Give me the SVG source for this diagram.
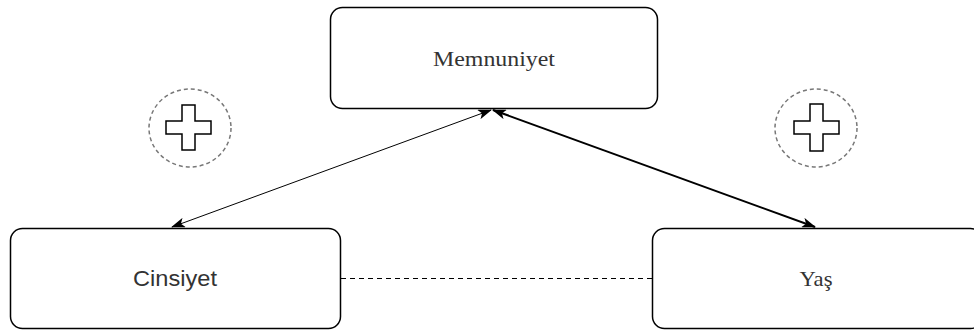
<svg xmlns="http://www.w3.org/2000/svg" width="974" height="333" viewBox="0 0 974 333">
  <style>
    .box { fill: #ffffff; stroke: #000000; stroke-width: 1.5; }
    .serif { font-family: "Liberation Serif", "Times New Roman", serif; font-size: 22px; fill: #333333; text-anchor: middle; }
    .sans { font-family: "Liberation Sans", Arial, sans-serif; font-size: 22px; fill: #333333; text-anchor: middle; }
    .halo { fill: none; stroke: #777777; stroke-width: 1.5; stroke-dasharray: 4 3; }
    .plus { fill: #ffffff; stroke: #000000; stroke-width: 1.5; stroke-linejoin: miter; }
    .link { fill: none; stroke: #000000; }
  </style>
  <defs>
    <marker id="head" viewBox="0 0 14 10" refX="13" refY="5" markerWidth="14" markerHeight="10" markerUnits="userSpaceOnUse" orient="auto-start-reverse">
      <path d="M0,0 L14,5 L0,10 L3.5,5 Z" fill="#000000"/>
    </marker>
  </defs>

  <g id="connectors">
    <line class="link" x1="172" y1="227" x2="491" y2="110" stroke-width="1" marker-start="url(#head)" marker-end="url(#head)"/>
    <line class="link" x1="493" y1="110" x2="815" y2="227" stroke-width="2" marker-start="url(#head)" marker-end="url(#head)"/>
    <line class="link" x1="341" y1="278.5" x2="652" y2="278.5" stroke-width="1" stroke="#111111" stroke-dasharray="5 4"/>
  </g>

  <g id="memnuniyet">
    <rect class="box" x="330.5" y="7.5" width="327" height="101" rx="12"/>
    <text class="serif" x="494" y="66" textLength="122" lengthAdjust="spacingAndGlyphs">Memnuniyet</text>
  </g>

  <g id="cinsiyet">
    <rect class="box" x="10.5" y="228.5" width="330" height="100" rx="12"/>
    <text class="sans" x="175" y="286" textLength="84" lengthAdjust="spacingAndGlyphs">Cinsiyet</text>
  </g>

  <g id="yas">
    <rect class="box" x="652.5" y="228.5" width="330" height="100" rx="12"/>
    <text class="serif" x="816" y="286" textLength="33" lengthAdjust="spacingAndGlyphs">Yaş</text>
  </g>

  <g id="plus-left">
    <ellipse class="halo" cx="190" cy="128" rx="41" ry="39"/>
    <path class="plus" d="M182,105 h13 v16 h16 v13 h-16 v16 h-13 v-16 h-16 v-13 h16 Z"/>
  </g>

  <g id="plus-right">
    <ellipse class="halo" cx="816" cy="128" rx="41" ry="39"/>
    <path class="plus" d="M810,104 h13 v17 h16 v13 h-16 v17 h-13 v-17 h-16 v-13 h16 Z"/>
  </g>
</svg>
